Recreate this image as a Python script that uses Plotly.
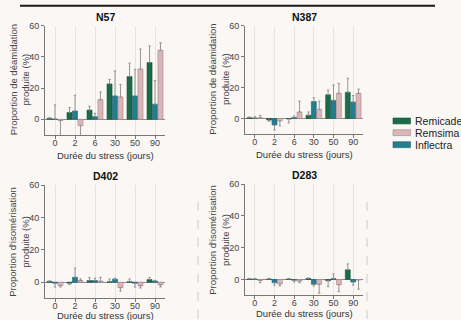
import plotly.graph_objects as go

days = ["0", "2", "6", "30", "50", "90"]
series_names = ["Remicade", "Inflectra", "Remsima"]

# N57 (déamidation)
n57_remicade = [0.6, 4.4, 5.9, 22.7, 27.4, 36.4]
n57_remicade_err = [0.6, 3.2, 2.5, 2.8, 8.6, 10.6]
n57_inflectra = [0.2, 5.3, 1.7, 15.0, 15.0, 9.7]
n57_inflectra_err = [9.0, 10.1, 2.1, 16.0, 17.0, 15.1]
n57_remsima = [-0.8, -4.0, 12.6, 14.3, 32.2, 44.2]
n57_remsima_err = [10.0, 6.5, 4.9, 8.0, 12.8, 4.8]

# N387 (déamidation)
n387_remicade = [0.5, -1.0, -0.3, 2.1, 15.3, 17.0]
n387_remicade_err = [0.5, 0.8, 2.5, 2.1, 3.1, 9.0]
n387_inflectra = [0.3, -4.2, 0.6, 11.0, 11.7, 10.6]
n387_inflectra_err = [0.8, 3.2, 1.0, 2.4, 9.9, 4.2]
n387_remsima = [0.5, -1.5, 4.2, 5.9, 16.3, 16.3]
n387_remsima_err = [1.5, 3.2, 7.0, 5.3, 6.4, 2.7]

# D402 (isomérisation)
d402_remicade = [0.5, -0.6, 1.0, 0.3, 0.3, 1.6]
d402_remicade_err = [0.3, 0.9, 1.8, 1.7, 1.7, 1.2]
d402_inflectra = [-0.6, 3.0, 1.0, 1.8, -0.6, 0.7]
d402_inflectra_err = [2.4, 5.7, 1.5, 0.7, 2.4, 0.4]
d402_remsima = [-2.0, 1.0, 0.6, -3.4, -2.2, -1.6]
d402_remsima_err = [1.0, 1.0, 2.4, 2.1, 1.4, 1.4]

# D283 (isomérisation)
d283_remicade = [0.3, 0.3, 0.3, 0.6, -0.8, 6.1]
d283_remicade_err = [0.4, 0.4, 0.4, 0.4, 3.7, 3.7]
d283_inflectra = [0.3, -2.0, -0.5, -3.0, 0.6, -1.6]
d283_inflectra_err = [0.4, 1.5, 1.0, 1.1, 2.9, 1.9]
d283_remsima = [-0.6, -2.7, -1.0, -3.0, -3.3, -0.3]
d283_remsima_err = [1.4, 1.3, 1.0, 5.6, 4.3, 5.8]

panel_titles = ["N57", "N387", "D402", "D283"]
y_tick_vals = [0, 20, 40, 60]
x_title = "Durée du stress (jours)"
y_title_top = "Proportion de déamidation<br>produite (%)"
y_title_bottom = "Proportion d'isomérisation<br>produite (%)"
legend_order = ["Remicade", "Remsima", "Inflectra"]

W, H = 461, 320
BG = "#faf7f5"
FONT = "Liberation Sans, Arial, sans-serif"
colors = {"Remicade": "#1b6b48", "Inflectra": "#237d8f", "Remsima": "#d9b6b8"}
outlines = {"Remicade": "#14553a", "Inflectra": "#1b6272", "Remsima": "#a68386"}

# (title, values, errors, x-span px, y-span px, y title, x-title centre px)
panels = [
    (panel_titles[0], [n57_remicade, n57_inflectra, n57_remsima],
     [n57_remicade_err, n57_inflectra_err, n57_remsima_err], (45, 165), (21, 132), y_title_top, 153),
    (panel_titles[1], [n387_remicade, n387_inflectra, n387_remsima],
     [n387_remicade_err, n387_inflectra_err, n387_remsima_err], (245, 363), (21, 131), y_title_top, 152),
    (panel_titles[2], [d402_remicade, d402_inflectra, d402_remsima],
     [d402_remicade_err, d402_inflectra_err, d402_remsima_err], (45, 165), (183, 298), y_title_bottom, 315.5),
    (panel_titles[3], [d283_remicade, d283_inflectra, d283_remsima],
     [d283_remicade_err, d283_inflectra_err, d283_remsima_err], (245, 363), (182, 295), y_title_bottom, 313),
]


def px(x):
    return x / W


def py(y):
    return 1 - y / H


fig = go.Figure()
layout = {}
annotations = []
shapes = []

for i, (title, vals, errs, (x0, x1), (ytop, ybot), ytitle, xty) in enumerate(panels):
    k = "" if i == 0 else str(i + 1)
    xa, ya = "x" + k, "y" + k
    for name, v, e in zip(series_names, vals, errs):
        plus = [ee if vv >= 0 else 0 for vv, ee in zip(v, e)]
        minus = [ee if vv < 0 else 0 for vv, ee in zip(v, e)]
        fig.add_trace(go.Bar(
            x=days, y=v, name=name, xaxis=xa, yaxis=ya,
            marker=dict(color=colors[name], line=dict(color=outlines[name], width=0.6)),
            error_y=dict(type="data", symmetric=False, array=plus, arrayminus=minus,
                         color="#8a8a8a", thickness=0.9, width=1.2),
            showlegend=False,
        ))
    layout["xaxis" + k] = dict(
        domain=[px(x0), px(x1)], anchor=ya, type="category", range=[-0.5, 5.5],
        showgrid=True, gridcolor="#e7e3e1", gridwidth=1,
        showline=True, linecolor="#777", linewidth=1,
        ticks="outside", ticklen=3, tickcolor="#777", ticklabelstandoff=-4,
        tickfont=dict(family=FONT, size=9, color="#444"), fixedrange=True,
    )
    layout["yaxis" + k] = dict(
        domain=[py(ybot), py(ytop)], anchor=xa, range=[-10, 60],
        tickvals=y_tick_vals, showgrid=False,
        zeroline=True, zerolinecolor="#8c8c8c", zerolinewidth=1,
        showline=True, linecolor="#777", linewidth=1,
        ticks="outside", ticklen=3, tickcolor="#777",
        tickfont=dict(family=FONT, size=9, color="#444"), fixedrange=True,
    )
    xc = (x0 + x1) / 2
    annotations.append(dict(text="<b>" + title + "</b>", x=px(xc), y=py(ytop - 9),
                            xref="paper", yref="paper", showarrow=False,
                            font=dict(family=FONT, size=10.5, color="#111"),
                            xanchor="center", yanchor="middle"))
    annotations.append(dict(text=x_title, x=px(xc), y=py(xty),
                            xref="paper", yref="paper", showarrow=False,
                            font=dict(family=FONT, size=9.5, color="#333"),
                            xanchor="center", yanchor="middle"))
    annotations.append(dict(text=ytitle, x=px(x0 - 26), y=py((ytop + ybot) / 2),
                            xref="paper", yref="paper", showarrow=False, textangle=-90,
                            font=dict(family=FONT, size=9.5, color="#444"),
                            xanchor="center", yanchor="middle"))

# Legend (custom swatches)
leg_rows = [117.8, 129.7, 141.9]
for name, yc in zip(legend_order, leg_rows):
    shapes.append(dict(type="rect", xref="paper", yref="paper",
                       x0=px(393), x1=px(410.5), y0=py(yc + 3), y1=py(yc - 3),
                       fillcolor=colors[name], line=dict(color=outlines[name], width=0.6)))
    annotations.append(dict(text=name, x=px(413), y=py(yc), xref="paper", yref="paper",
                            showarrow=False, xanchor="left", yanchor="middle",
                            font=dict(family=FONT, size=10.5, color="#222")))

# slide decorations
shapes.append(dict(type="line", xref="paper", yref="paper", x0=px(20), x1=px(435),
                   y0=py(0.8), y1=py(0.8), line=dict(color="#1a1a1a", width=2)))
for xd in (198, 367):
    shapes.append(dict(type="line", xref="paper", yref="paper", x0=px(xd), x1=px(xd),
                       y0=py(200), y1=py(320), line=dict(color="#cccccc", width=1, dash="dash")))

fig.update_layout(
    width=W, height=H, margin=dict(l=0, r=0, t=0, b=0),
    paper_bgcolor=BG, plot_bgcolor=BG,
    barmode="group", bargap=0.18, bargroupgap=0.08,
    showlegend=False, annotations=annotations, shapes=shapes,
    font=dict(family=FONT),
    **layout,
)

fig.write_html(
    "out.html",
    config={"displayModeBar": False},
    post_script="document.body.style.margin='0';document.body.style.padding='0';"
                "document.body.style.overflow='hidden';"
                "document.body.style.background='" + BG + "';",
)
